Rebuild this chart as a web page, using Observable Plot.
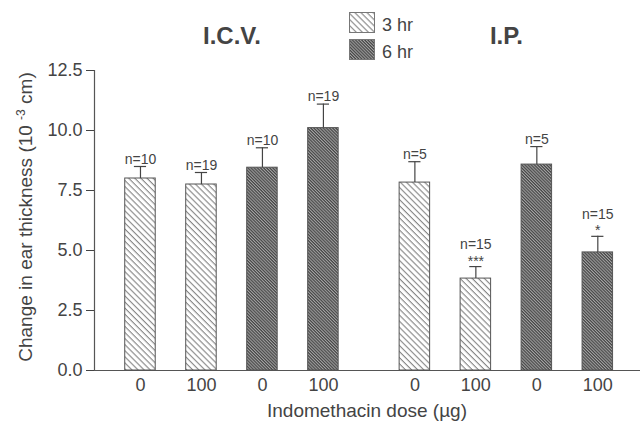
<!DOCTYPE html>
<html><head><meta charset="utf-8">
<script src="https://cdn.jsdelivr.net/npm/d3@7"></script>
<script src="https://cdn.jsdelivr.net/npm/@observablehq/plot@0.6"></script>
<style>
body{margin:0;background:#fff;font-family:"Liberation Sans",Arial,Helvetica,sans-serif;}
#wrap{position:relative;width:642px;height:425px;}
#legend{position:absolute;left:349px;top:12px;font-size:18px;color:#444;}
.row{display:flex;align-items:center;height:20px;margin-bottom:7px;}
.row svg{margin-right:7px;display:block;}
.row span{position:relative;top:3px;}
</style></head><body>
<svg width="0" height="0" style="position:absolute">
<defs>
<pattern id="hatch3" patternUnits="userSpaceOnUse" width="10" height="4.3" patternTransform="rotate(45)">
<rect width="10" height="4.3" fill="#fff"/>
<line x1="0" x2="10" y1="0.6" y2="0.6" stroke="#777" stroke-width="1"/>
</pattern>
<pattern id="hatch6" patternUnits="userSpaceOnUse" width="10" height="2.2" patternTransform="rotate(45)">
<rect width="10" height="2.2" fill="#a4a4a4"/>
<line x1="0" x2="10" y1="0.6" y2="0.6" stroke="#3e3e3e" stroke-width="1.1"/>
</pattern>
</defs></svg>
<div id="wrap"><div id="legend"></div></div>
<script>
// ---- data ----
const routeOrder = ["I.C.V.", "I.P."];
const timeOrder = ["3 hr", "6 hr"];
const routes = ["I.C.V.","I.C.V.","I.C.V.","I.C.V.","I.P.","I.P.","I.P.","I.P."];
const times  = ["3 hr","3 hr","6 hr","6 hr","3 hr","3 hr","6 hr","6 hr"];
const doses  = ["0","100","0","100","0","100","0","100"];
const means  = [8.0, 7.75, 8.45, 10.1, 7.83, 3.83, 8.58, 4.92];
const errors = [0.5, 0.5, 0.83, 1.0, 0.87, 0.5, 0.75, 0.67];
const nLabels = ["n=10","n=19","n=10","n=19","n=5","n=15","n=5","n=15"];
const stars  = ["","","","","","***","","*"];
const yTicks = [0, 2.5, 5, 7.5, 10, 12.5];

// ---- build table ----
const counters = {};
const data = routes.map((r, i) => {
  const k = counters[r] = (counters[r] ?? -1) + 1;
  return {route: r, time: times[i], dose: doses[i], mean: means[i], err: errors[i],
          top: means[i] + errors[i], n: nLabels[i], stars: stars[i],
          pos: routeOrder.indexOf(r) * 4.5 + k};
});
const titles = routeOrder.map(r => {
  const ps = data.filter(d => d.route === r).map(d => d.pos);
  return {route: r, center: d3.mean(ps)};
});
const xDomain = [-0.754, 8.2];
const ink = "#444";

const plot = Plot.plot({
  width: 642, height: 425,
  marginLeft: 94, marginRight: 2, marginTop: 70, marginBottom: 55,
  style: {fontSize: "18px", fontFamily: "'Liberation Sans', Arial, Helvetica, sans-serif", color: ink, background: "transparent"},
  x: {type: "linear", domain: xDomain},
  y: {domain: [0, 12.5]},
  color: {type: "ordinal", domain: timeOrder, range: ["url(#hatch3)", "url(#hatch6)"]},
  marks: [
    Plot.rectY(data, {x1: d => d.pos - 0.25, x2: d => d.pos + 0.25, y1: 0, y2: "mean", fill: "time", stroke: "#555", strokeWidth: 1}),
    Plot.ruleX(data, {x: "pos", y1: "mean", y2: "top", stroke: ink, strokeWidth: 1.2}),
    Plot.ruleY(data, {y: "top", x1: d => d.pos - 0.1, x2: d => d.pos + 0.1, stroke: ink, strokeWidth: 1.2}),
    Plot.text(data.filter(d => !d.stars), {x: "pos", y: "top", text: "n", lineAnchor: "bottom", dy: -3, fontSize: 14, fill: ink}),
    Plot.text(data.filter(d => d.stars), {x: "pos", y: "top", text: d => d.n + "\n" + d.stars, lineAnchor: "bottom", lineHeight: 1.15, dy: -1, fontSize: 14, fill: ink}),
    Plot.text(titles, {x: "center", text: "route", frameAnchor: "top", lineAnchor: "bottom", dy: -27, fontSize: 24, fontWeight: "bold", fill: ink}),
    Plot.ruleY([0], {stroke: "#555", strokeWidth: 1.2}),
    Plot.ruleX([xDomain[0]], {stroke: "#555", strokeWidth: 1.2}),
    Plot.axisY({ticks: yTicks, tickFormat: d3.format(".1f"), tickSize: 8, tickPadding: 4, label: null}),
    Plot.axisX({ticks: data.map(d => d.pos), tickFormat: p => data.find(d => d.pos === p).dose, tickSize: 0, tickPadding: 8, label: null})
  ]
});
document.getElementById("wrap").appendChild(plot);

// axis titles
const svg = d3.select(plot);
const yl = svg.append("text")
  .attr("transform", "translate(32,217) rotate(-90)")
  .attr("text-anchor", "middle").attr("font-size", 19).attr("fill", ink);
yl.append("tspan").text("Change in ear thickness (10 ");
yl.append("tspan").attr("font-size", 12).attr("dy", -7).text("-3");
yl.append("tspan").attr("dy", 7).text(" cm)");
svg.append("text")
  .attr("x", (94 + 640) / 2).attr("y", 417)
  .attr("text-anchor", "middle").attr("font-size", 19).attr("fill", ink)
  .text("Indomethacin dose (\u00b5g)");

// legend
const legend = d3.select("#legend");
timeOrder.forEach((t, i) => {
  const row = legend.append("div").attr("class", "row");
  const s = row.append("svg").attr("width", 26).attr("height", 21);
  s.append("rect").attr("x", 0.5).attr("y", 0.5).attr("width", 25).attr("height", 20)
    .attr("fill", i === 0 ? "url(#hatch3)" : "url(#hatch6)").attr("stroke", "#777");
  row.append("span").text(t);
});
</script>
</body></html>
